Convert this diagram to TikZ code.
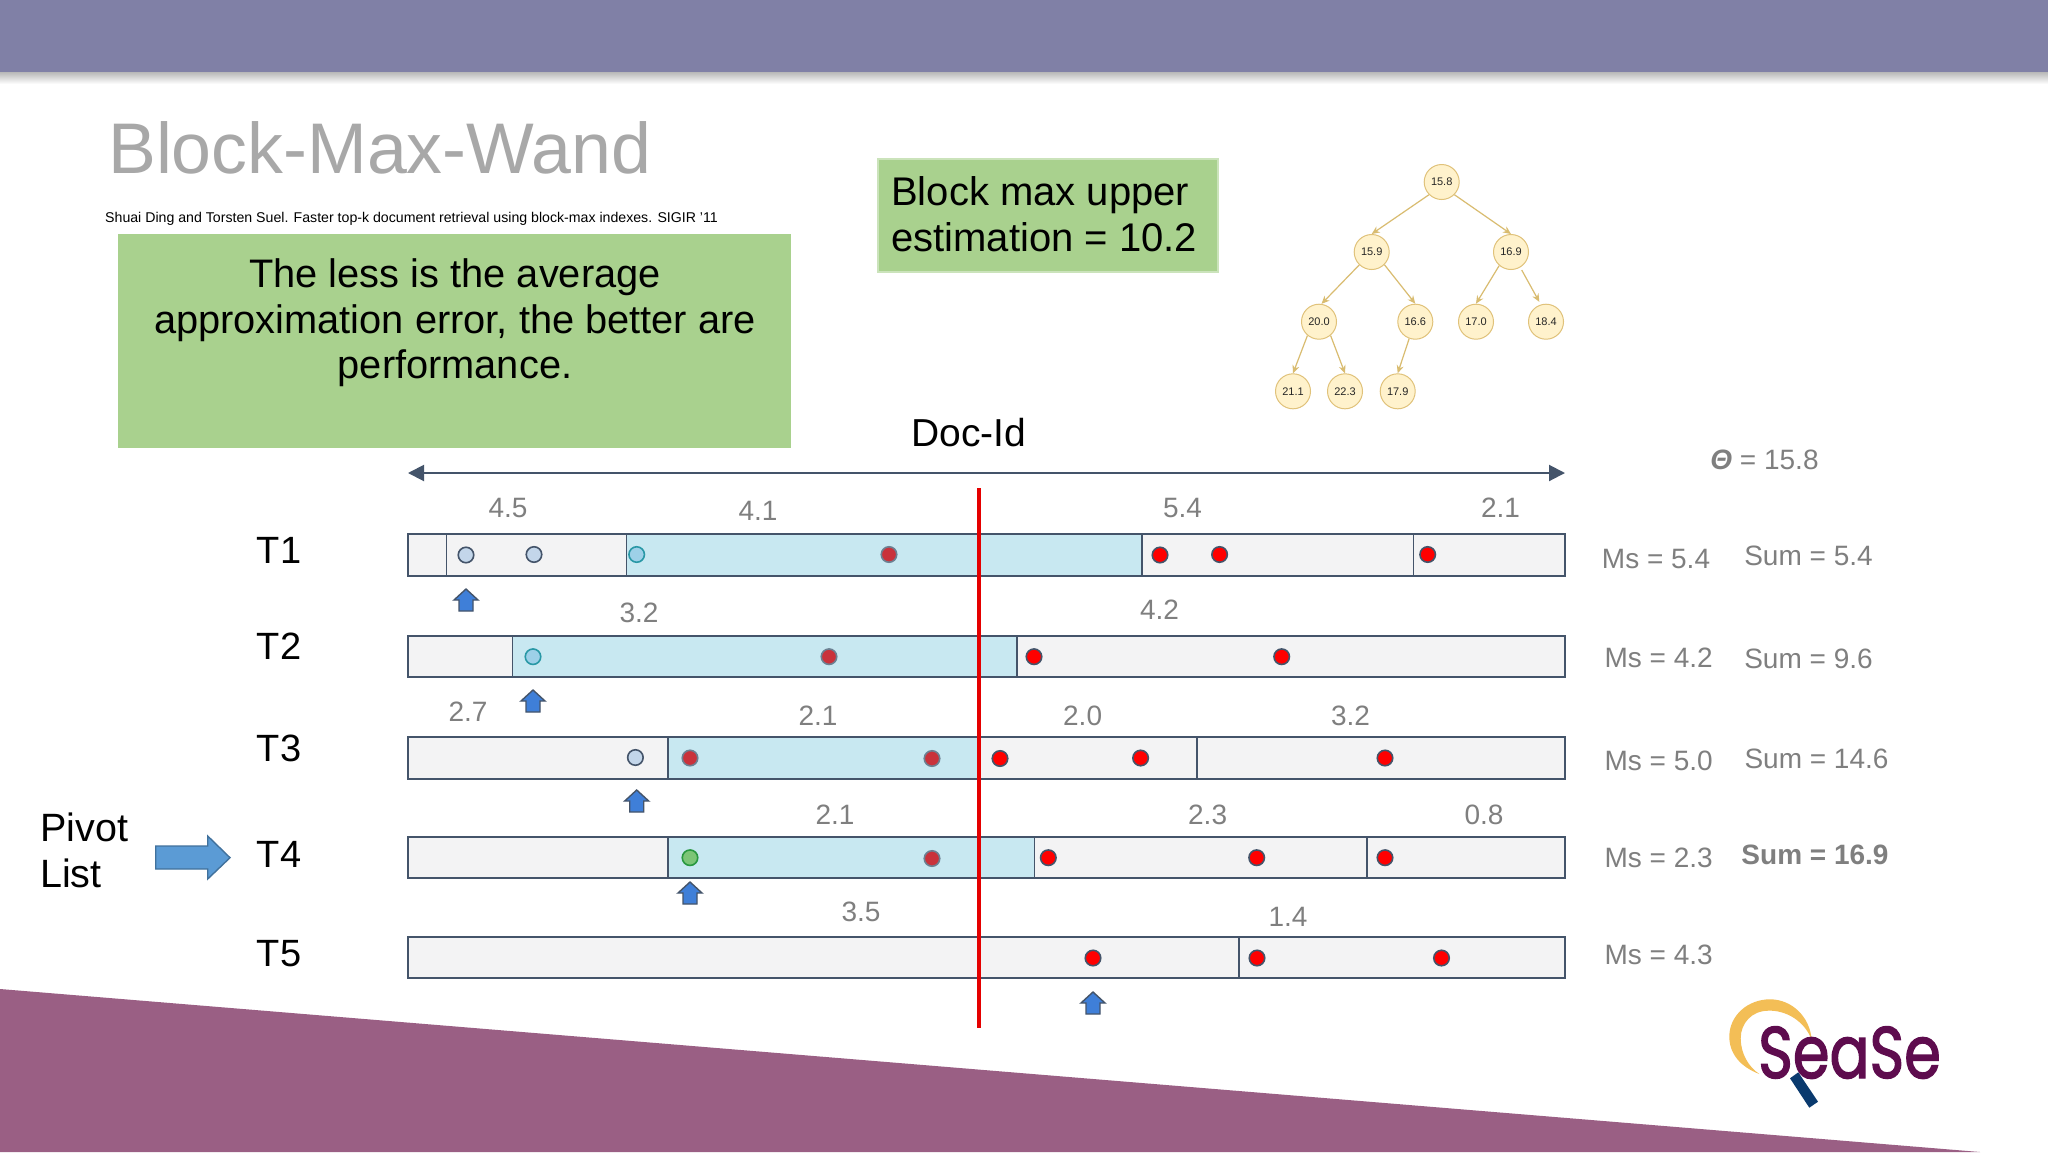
\documentclass[tikz,border=0pt]{standalone}
\usepackage{fontspec}
\setmainfont{Liberation Sans}
\newfontfamily\logofont[FakeBold=2]{Poppins}
\usetikzlibrary{arrows.meta,calc}
\definecolor{band}{HTML}{8080A6}
\definecolor{wedge}{HTML}{9A5F84}
\definecolor{boxgreen}{HTML}{A9D18E}
\definecolor{slate}{HTML}{44546A}
\definecolor{barfill}{HTML}{F3F3F4}
\definecolor{cyanfill}{HTML}{C8E8F1}
\definecolor{greytxt}{HTML}{7F7F7F}
\definecolor{treefill}{HTML}{FFF2CC}
\definecolor{treeline}{HTML}{E0C27A}
\definecolor{treearrow}{HTML}{D9BC70}
\definecolor{markerblue}{HTML}{3F7FD8}
\definecolor{pivotblue}{HTML}{5B9BD5}
\definecolor{pivotedge}{HTML}{41719C}
\definecolor{dimred}{HTML}{C9323B}
\definecolor{palefill}{HTML}{C3D6EA}
\definecolor{cyandot}{HTML}{9DD0E8}
\definecolor{greendot}{HTML}{7CC576}
\newcommand\fsz[1]{\fontsize{#1}{#1}\selectfont}
\newcommand\markerarrow[2]{%
  \draw[markerstyle] (#1,#2) -- (#1+12,#2+11) -- (#1+7,#2+11) -- (#1+7,#2+22) -- (#1-7,#2+22) -- (#1-7,#2+11) -- (#1-12,#2+11) -- cycle;}
\tikzset{
  x=1pt,y=-1pt,
  barbox/.style={draw=slate,line width=2pt,fill=barfill},
  seg/.style={fill=cyanfill,draw=none},
  divider/.style={draw=slate,line width=1.6pt},
  dot/.style={circle,inner sep=0pt,minimum size=15.5pt,line width=1.6pt,draw=slate},
  dotred/.style={dot,fill=red},
  dotdim/.style={dot,fill=dimred,draw=slate!70!cyanfill},
  dotpale/.style={dot,fill=palefill},
  dotcyan/.style={dot,fill=cyandot,draw=slate!60!cyan},
  dotgreen/.style={dot,fill=greendot,draw=slate!60!green},
  val/.style={font=\fsz{28},text=greytxt,inner sep=0pt},
  term/.style={font=\fsz{38},text=black,inner sep=0pt},
  treenode/.style={circle,draw=treeline,fill=treefill,line width=1pt,minimum size=35pt,inner sep=0pt,font=\fsz{11},text=black!85},
  treeedge/.style={draw=treearrow,line width=1.2pt,-{Stealth[length=8pt,width=7pt]}},
  markerstyle/.style={draw=slate,line width=1.4pt,fill=markerblue},
}
\begin{document}
\begin{tikzpicture}
\useasboundingbox (0,0) rectangle (2048,1152);
\fill[white] (0,0) rectangle (2048,1152);
% top band
\fill[top color=black!28,bottom color=white] (0,72) rectangle (2048,84);
\fill[band] (0,0) rectangle (2048,72);
% bottom wedge
\fill[wedge] (0,989) -- (1980,1152) -- (0,1152) -- cycle;
% title
\node[anchor=base west,inner sep=0pt,font=\fsz{71.7},text=black!34] (title) at (108,173) {Block-Max-Wand};
\node[anchor=base west,inner sep=0pt,font=\fsz{14.15},text=black] (cite) at (105,222) {Shuai Ding and Torsten Suel. Faster top-k document retrieval using block-max indexes. SIGIR '11};
% green boxes
\fill[boxgreen] (117.5,234) rectangle (791,448);
\node[align=center,inner sep=0pt,font=\fontsize{39.8}{45.5}\selectfont,text=black] (note) at (455,323) {The less is the average\\approximation error, the better are\\performance.};
\draw[draw=boxgreen!60!white,fill=boxgreen,line width=2pt] (878,159) rectangle (1218,272);
\node[align=left,inner sep=0pt,anchor=west,font=\fontsize{40}{45.5}\selectfont,text=black] (est) at (891,214) {Block max upper\\estimation = 10.2};
% tree
\node[treenode] (n158) at (1441.7,182) {15.8};
\node[treenode] (n159) at (1371.7,252) {15.9};
\node[treenode] (n169) at (1511,252) {16.9};
\node[treenode] (n200) at (1319,321.7) {20.0};
\node[treenode] (n166) at (1415.3,321.7) {16.6};
\node[treenode] (n170) at (1476,321.7) {17.0};
\node[treenode] (n184) at (1546,321.7) {18.4};
\node[treenode] (n211) at (1293,391.3) {21.1};
\node[treenode] (n223) at (1345,391.3) {22.3};
\node[treenode] (n179) at (1397.7,391.3) {17.9};
\draw[treeedge] (n158.-135) -- (n159.north);
\draw[treeedge] (n158.-45) -- (n169.north);
\draw[treeedge] (n159.-134) -- (n200.82);
\draw[treeedge] (n159.-45) -- (n166.north);
\draw[treeedge] (n169.-131) -- (n170.north);
\draw[treeedge,shorten <=3pt,shorten >=3pt] (n169.-59) -- (n184.107);
\draw[treeedge] (n200.-130) -- (n211.north);
\draw[treeedge] (n200.-50) -- (n223.north);
\draw[treeedge] (n166.-110) -- (n179.north);
% doc-id axis
\node[font=\fsz{39},text=black,inner sep=0pt] (docid) at (969,433) {Doc-Id};
\coordinate (axl) at (408,473);
\coordinate (axr) at (1565,473);
\draw[draw=slate,line width=2pt,{Triangle[length=16pt,width=16pt]}-{Triangle[length=16pt,width=16pt]}] (axl) -- (axr);
\node[font=\fsz{28},text=greytxt,inner sep=0pt] (theta) at (1764.5,460) {\textbf{\textit{Θ}} = 15.8};
% bars
\draw[barbox] (408,534.3) rectangle (1565,576);
\fill[seg] (626.4,535.3) rectangle (1142,575);
\draw[divider] (446.5,534.3) -- (446.5,576);
\draw[divider] (626.4,534.3) -- (626.4,576);
\draw[divider] (1142,534.3) -- (1142,576);
\draw[divider] (1413.4,534.3) -- (1413.4,576);

\draw[barbox] (408,635.7) rectangle (1565,677.3);
\fill[seg] (512.6,636.7) rectangle (1017,676.3);
\draw[divider] (512.6,635.7) -- (512.6,677.3);
\draw[divider] (1017,635.7) -- (1017,677.3);

\draw[barbox] (408,737.3) rectangle (1565,778.7);
\fill[seg] (668,738.3) rectangle (978.7,777.7);
\draw[divider] (668,737.3) -- (668,778.7);
\draw[divider] (1197,737.3) -- (1197,778.7);

\draw[barbox] (408,837) rectangle (1565,878.3);
\fill[seg] (668,838) rectangle (1034.4,877.3);
\draw[divider] (668,837) -- (668,878.3);
\draw[divider] (1034.4,837) -- (1034.4,878.3);
\draw[divider] (1367,837) -- (1367,878.3);

\draw[barbox] (408,937) rectangle (1565,978.3);
\draw[divider] (1239,937) -- (1239,978.3);
% T1 dots
\node[dotpale] (a1) at (466,555) {};
\node[dotpale] (a2) at (534,554.5) {};
\node[dotcyan] (a3) at (636.7,554.5) {};
\node[dotdim] (a4) at (889,554.5) {};
\node[dotred] (a5) at (1160,555) {};
\node[dotred] (a6) at (1219.6,554.5) {};
\node[dotred] (a7) at (1427.7,554.5) {};
% T2 dots
\node[dotcyan] (b1) at (533,656.7) {};
\node[dotdim] (b2) at (829,656.7) {};
\node[dotred] (b3) at (1034,656.7) {};
\node[dotred] (b4) at (1281.7,656.7) {};
% T3 dots
\node[dotpale] (c1) at (635.4,757.5) {};
\node[dotdim] (c2) at (690,758) {};
\node[dotdim] (c3) at (932,758.5) {};
\node[dotred] (c4) at (1000,758.5) {};
\node[dotred] (c5) at (1140.6,758) {};
\node[dotred] (c6) at (1385,758) {};
% T4 dots
\node[dotgreen] (d1) at (690,857.7) {};
\node[dotdim] (d2) at (932,858.5) {};
\node[dotred] (d3) at (1048.3,857.7) {};
\node[dotred] (d4) at (1256.7,857.7) {};
\node[dotred] (d5) at (1385,857.7) {};
% T5 dots
\node[dotred] (e1) at (1093,958) {};
\node[dotred] (e2) at (1257,958) {};
\node[dotred] (e3) at (1441.5,958) {};
% threshold line
\coordinate (redtop) at (978.7,488);
\coordinate (redbot) at (978.7,1028);
\draw[draw=red!90!black,line width=3.6pt] (redtop) -- (redbot);
% markers
\markerarrow{466}{589}
\markerarrow{533}{690}
\markerarrow{636.7}{790}
\markerarrow{690}{882}
\markerarrow{1093}{992}
% block values
\node[val] (v1) at (508,508) {4.5};
\node[val] (v2) at (758,510.7) {4.1};
\node[val] (v3) at (1182.5,508) {5.4};
\node[val] (v4) at (1500.5,508) {2.1};
\node[val] (v5) at (639,612.7) {3.2};
\node[val] (v6) at (1159.5,610) {4.2};
\node[val] (v7) at (468,712) {2.7};
\node[val] (v8) at (818,715.7) {2.1};
\node[val] (v9) at (1082.6,715.7) {2.0};
\node[val] (v10) at (1350.5,715.7) {3.2};
\node[val] (v11) at (835,815) {2.1};
\node[val] (v12) at (1207.6,815) {2.3};
\node[val] (v13) at (1484,815) {0.8};
\node[val] (v14) at (861,911.7) {3.5};
\node[val] (v15) at (1288,917) {1.4};
% terms
\node[term] (t1) at (279,550) {T1};
\node[term] (t2) at (279,646) {T2};
\node[term] (t3) at (279,748) {T3};
\node[term] (t4) at (279,854) {T4};
\node[term] (t5) at (279,953.5) {T5};
% pivot
\node[anchor=base west,inner sep=0pt,font=\fsz{39.5},text=black] (pivot) at (40,841.7) {Pivot};
\node[anchor=base west,inner sep=0pt,font=\fsz{39.5},text=black] (list) at (40,887) {List};
\draw[draw=pivotedge,line width=1.4pt,fill=pivotblue] (155.7,846) -- (207.7,846) -- (207.7,836) -- (230,857.7) -- (207.7,879) -- (207.7,869) -- (155.7,869) -- cycle;
% right column
\node[val] (m1) at (1656,558.5) {Ms = 5.4};
\node[val] (m2) at (1658.6,658) {Ms = 4.2};
\node[val] (m3) at (1658.6,760.5) {Ms = 5.0};
\node[val] (m4) at (1658.6,858) {Ms = 2.3};
\node[val] (m5) at (1658.6,955) {Ms = 4.3};
\node[val] (s1) at (1808.5,556) {Sum = 5.4};
\node[val] (s2) at (1808.5,658.5) {Sum = 9.6};
\node[val] (s3) at (1816.5,759) {Sum = 14.6};
\node[val,font=\fsz{28}\bfseries] (s4) at (1815,855) {Sum = 16.9};
% logo
\fill[color={rgb,255:red,243;green,190;blue,86}]
  ($(1680,960)+(79.3,114)$) .. controls ($(1680,960)+(60,106.7)$) and ($(1680,960)+(49.3,93.3)$) .. ($(1680,960)+(49.3,76.7)$)
  .. controls ($(1680,960)+(49.3,55)$) and ($(1680,960)+(68.3,39.3)$) .. ($(1680,960)+(90,39.3)$)
  .. controls ($(1680,960)+(111.7,39.3)$) and ($(1680,960)+(130,56.7)$) .. ($(1680,960)+(131.7,80)$)
  .. controls ($(1680,960)+(125,61.7)$) and ($(1680,960)+(106.7,50)$) .. ($(1680,960)+(88.3,50.7)$)
  .. controls ($(1680,960)+(71.7,50.7)$) and ($(1680,960)+(60.7,63.3)$) .. ($(1680,960)+(60.7,78.3)$)
  .. controls ($(1680,960)+(60.7,93.3)$) and ($(1680,960)+(68.3,106.7)$) .. ($(1680,960)+(79.3,114)$) -- cycle;
\fill[color={rgb,255:red,10;green,58;blue,110}] (1790,1078.3) -- (1798.3,1072.3) -- (1818,1101.7) -- (1809.3,1107.7) -- cycle;
\node[anchor=base west,inner sep=0pt,font=\logofont\fsz{73},text={rgb,255:red,94;green,12;blue,78},xscale=0.81] (logo) at (1758,1078) {SeaSe};
\end{tikzpicture}
\end{document}
